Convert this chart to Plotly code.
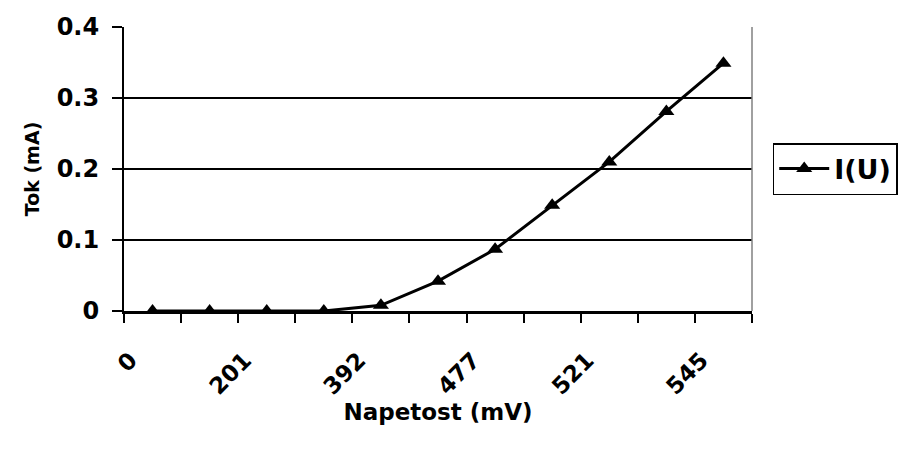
import plotly.graph_objects as go

# Data
point_index = list(range(11))                      # 11 measured points (category slots)
current_mA = [0.0, 0.0, 0.0, 0.0, 0.008, 0.042, 0.087, 0.149, 0.210, 0.281, 0.349]
label_index = [0, 2, 4, 6, 8, 10]                  # slots that carry a visible label
voltage_labels = ["0", "201", "392", "477", "521", "545"]
series_name = "I(U)"
y_ticks = [0, 0.1, 0.2, 0.3, 0.4]
y_tick_text = ["0", "0.1", "0.2", "0.3", "0.4"]

WIDE = "DejaVu Sans, Liberation Sans, sans-serif"

fig = go.Figure()
fig.add_trace(go.Scatter(
    x=point_index, y=current_mA, name=series_name,
    mode="lines+markers",
    line=dict(color="black", width=3),
    marker=dict(symbol="triangle-up", size=14, color="black"),
))

fig.update_layout(
    width=908, height=454,
    margin=dict(l=124, r=156, t=27, b=143, autoexpand=False),
    paper_bgcolor="white", plot_bgcolor="white",
    font=dict(family=WIDE, color="black", size=20, weight="bold"),
    showlegend=True,
    legend=dict(
        x=1.033, xanchor="left", y=0.5, yanchor="middle",
        bordercolor="black", borderwidth=1.5, bgcolor="white",
        font=dict(size=27, family=WIDE, weight="bold"),
        itemwidth=50,
    ),
    xaxis=dict(
        range=[-0.5, 10.5], tickmode="array",
        tickvals=label_index, ticktext=voltage_labels,
        tickangle=-45, ticks="", showgrid=False, zeroline=False,
        showline=True, linecolor="black", linewidth=2.5,
        ticklabelstandoff=24, ticklabelshift=-22,
        tickfont=dict(size=23, family=WIDE, weight="bold"),
        minor=dict(tick0=-0.5, dtick=1, ticks="outside", ticklen=9,
                   tickwidth=1.5, tickcolor="black", showgrid=False),
        title=dict(text="Napetost (mV)", font=dict(size=23, family=WIDE, weight="bold"),
                   standoff=5),
        automargin=False,
    ),
    yaxis=dict(
        range=[0, 0.4], tickmode="array", tickvals=y_ticks, ticktext=y_tick_text,
        ticks="outside", ticklen=10, tickwidth=1.5, tickcolor="black",
        showgrid=True, gridcolor="black", gridwidth=2, zeroline=False,
        showline=True, linecolor="black", linewidth=2,
        ticklabelstandoff=8,
        tickfont=dict(size=24, family=WIDE, weight="bold"),
        title=dict(text="Tok (mA)", font=dict(size=19, family=WIDE, weight="bold"),
                   standoff=12),
        automargin=False,
    ),
    shapes=[
        dict(type="line", xref="paper", yref="paper", x0=1, x1=1, y0=0, y1=1,
             line=dict(color="#808080", width=1.5)),
    ],
)

fig.write_html("out.html", post_script="document.body.style.margin='0';",
               config={"displayModeBar": False})
